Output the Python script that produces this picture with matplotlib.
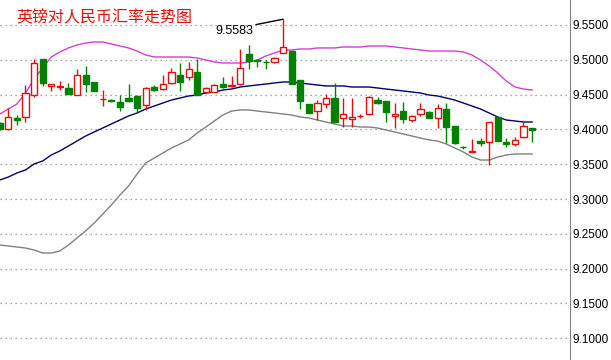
import numpy as np
import matplotlib
matplotlib.use("Agg")
import matplotlib.pyplot as plt
from matplotlib.patches import Rectangle

# daily GBP/CNY candles
opens = [9.4092, 9.4006, 9.4164, 9.4178, 9.4494, 9.5011, 9.4624, 9.4609, 9.4595, 9.4494,
         9.4782, 9.4681, 9.4430, 9.4422, 9.4394, 9.4451, 9.4480, 9.4351, 9.4609, 9.4580,
         9.4667, 9.4782, 9.4753, 9.4825, 9.4537, 9.4537, 9.4652, 9.4630, 9.4652, 9.5083,
         9.4990, 9.4975, 9.4968, 9.5098, 9.5126, 9.4710, 9.4365, 9.4264, 9.4365, 9.4451,
         9.4164, 9.4149, 9.4186, 9.4221, 9.4422, 9.4408, 9.4193, 9.4264, 9.4135, 9.4221,
         9.4250, 9.4164, 9.4293, 9.4049, 9.3754, 9.3682, 9.3833, 9.3819, 9.4178, 9.3819,
         9.3790, 9.3891, 9.4020]
closes = [9.4006, 9.4178, 9.4135, 9.4523, 9.4954, 9.4667, 9.4652, 9.4624, 9.4509, 9.4782,
          9.4652, 9.4552, 9.4437, 9.4408, 9.4322, 9.4408, 9.4307, 9.4595, 9.4566, 9.4652,
          9.4825, 9.4681, 9.4868, 9.4494, 9.4595, 9.4638, 9.4609, 9.4638, 9.4882, 9.4983,
          9.4983, 9.4968, 9.5026, 9.5184, 9.4652, 9.4408, 9.4236, 9.4379, 9.4451, 9.4106,
          9.4221, 9.4178, 9.4193, 9.4466, 9.4379, 9.4250, 9.4221, 9.4149, 9.4193, 9.4293,
          9.4164, 9.4307, 9.4034, 9.3805, 9.3740, 9.3690, 9.3805, 9.4106, 9.3833, 9.3790,
          9.3848, 9.4049, 9.3991]
highs = [9.4106, 9.4307, 9.4207, 9.4638, 9.5011, 9.5011, 9.4652, 9.4695, 9.4667, 9.4868,
         9.4911, 9.4681, 9.4566, 9.4437, 9.4494, 9.4652, 9.4494, 9.4609, 9.4638, 9.4782,
         9.4882, 9.4954, 9.4968, 9.5011, 9.4609, 9.4652, 9.4753, 9.4767, 9.5155, 9.5213,
         9.5011, 9.4997, 9.5040, 9.5583, 9.5126, 9.4710, 9.4365, 9.4422, 9.4509, 9.4667,
         9.4451, 9.4451, 9.4221, 9.4480, 9.4466, 9.4408, 9.4379, 9.4394, 9.4207, 9.4379,
         9.4264, 9.4365, 9.4379, 9.4049, 9.3761, 9.3862, 9.3876, 9.4106, 9.4178, 9.3876,
         9.3891, 9.4106, 9.4020]
lows = [9.3991, 9.3991, 9.4063, 9.4106, 9.4466, 9.4624, 9.4552, 9.4566, 9.4509, 9.4494,
        9.4537, 9.4552, 9.4336, 9.4394, 9.4264, 9.4394, 9.4250, 9.4279, 9.4552, 9.4566,
        9.4652, 9.4552, 9.4710, 9.4494, 9.4523, 9.4537, 9.4595, 9.4609, 9.4638, 9.4868,
        9.4897, 9.4868, 9.4954, 9.5098, 9.4652, 9.4293, 9.4236, 9.4135, 9.4307, 9.4106,
        9.4034, 9.4034, 9.4164, 9.4207, 9.4365, 9.4106, 9.4020, 9.4092, 9.4106, 9.4193,
        9.4164, 9.4020, 9.3805, 9.3790, 9.3718, 9.3675, 9.3761, 9.3489, 9.3833, 9.3747,
        9.3761, 9.3876, 9.3819]

# bollinger bands
mid = [9.3273, 9.3316, 9.3374, 9.3417, 9.3503, 9.3546, 9.3632, 9.3690, 9.3761, 9.3833,
       9.3905, 9.3963, 9.4020, 9.4078, 9.4135, 9.4193, 9.4236, 9.4293, 9.4336, 9.4379,
       9.4422, 9.4451, 9.4480, 9.4494, 9.4523, 9.4537, 9.4566, 9.4580, 9.4609, 9.4624,
       9.4638, 9.4652, 9.4667, 9.4681, 9.4681, 9.4667, 9.4652, 9.4638, 9.4624, 9.4624,
       9.4624, 9.4609, 9.4609, 9.4609, 9.4595, 9.4580, 9.4566, 9.4552, 9.4537, 9.4523,
       9.4494, 9.4480, 9.4451, 9.4422, 9.4379, 9.4336, 9.4293, 9.4236, 9.4178, 9.4135,
       9.4121, 9.4106, 9.4106]
upper = [9.4221, 9.4293, 9.4365, 9.4523, 9.4724, 9.4882, 9.5040, 9.5112, 9.5170, 9.5213,
         9.5241, 9.5256, 9.5256, 9.5227, 9.5198, 9.5170, 9.5126, 9.5069, 9.5040, 9.5040,
         9.5040, 9.5040, 9.5040, 9.5026, 9.4997, 9.4968, 9.4954, 9.4954, 9.4954, 9.4968,
         9.4997, 9.5055, 9.5098, 9.5141, 9.5141, 9.5155, 9.5155, 9.5170, 9.5170, 9.5170,
         9.5184, 9.5184, 9.5184, 9.5198, 9.5198, 9.5198, 9.5184, 9.5170, 9.5155, 9.5141,
         9.5126, 9.5126, 9.5126, 9.5126, 9.5112, 9.5069, 9.4997, 9.4911, 9.4810, 9.4695,
         9.4609, 9.4580, 9.4566]
lower = [9.2339, 9.2325, 9.2310, 9.2296, 9.2267, 9.2224, 9.2224, 9.2253, 9.2339, 9.2440,
         9.2540, 9.2655, 9.2784, 9.2914, 9.3057, 9.3187, 9.3359, 9.3517, 9.3589, 9.3661,
         9.3733, 9.3790, 9.3848, 9.3948, 9.4034, 9.4121, 9.4207, 9.4264, 9.4279, 9.4279,
         9.4264, 9.4250, 9.4236, 9.4221, 9.4207, 9.4178, 9.4164, 9.4135, 9.4106, 9.4078,
         9.4049, 9.4049, 9.4034, 9.4034, 9.4020, 9.3991, 9.3963, 9.3934, 9.3905, 9.3876,
         9.3848, 9.3833, 9.3790, 9.3733, 9.3675, 9.3603, 9.3560, 9.3560, 9.3603, 9.3632,
         9.3647, 9.3647, 9.3647]

yticks = [9.10, 9.15, 9.20, 9.25, 9.30, 9.35, 9.40, 9.45, 9.50, 9.55]
title = "英镑对人民币汇率走势图"

RED = "#e01010"
GREEN = "#008000"

fig = plt.figure(figsize=(6.11, 3.6), dpi=100)
ax = fig.add_axes([0, 0, 570 / 611, 1])

x = np.arange(len(opens))
w = 0.72

for yv in yticks:
    ax.axhline(yv, color="#888888", lw=0.9, ls=(0, (1, 3)), zorder=0)

for i in x:
    o, c, h, l = opens[i], closes[i], highs[i], lows[i]
    up = c >= o
    col = RED if up else GREEN
    ax.plot([i, i], [l, h], color=col, lw=1, zorder=2, solid_capstyle="butt")
    body = max(abs(c - o), 0.0004)
    ax.add_patch(Rectangle((i - w / 2, min(o, c)), w, body,
                           facecolor="white" if up else GREEN,
                           edgecolor=col, lw=1, zorder=3))

ax.plot(x, upper, color="#d040d0", lw=1, zorder=1)
ax.plot(x, mid, color="#000066", lw=1, zorder=1)
ax.plot(x, lower, color="#808080", lw=1, zorder=1)

imax = int(np.argmax(highs))
ax.annotate(f"{highs[imax]:.4f}", xy=(imax, highs[imax]), xytext=(-30, -6),
            textcoords="offset pixels", ha="right", va="top", fontsize=9,
            family="Liberation Sans",
            arrowprops=dict(arrowstyle="-", color="black", lw=1,
                            shrinkA=0, shrinkB=0, relpos=(1, 1)))

ax.set_xlim(0.03, 66.42)
ax.set_ylim(9.0687, 9.5859)
ax.set_xticks([])
ax.set_yticks(yticks)
ax.set_yticklabels([f"{v:.4f}" for v in yticks], family="Liberation Sans")
ax.yaxis.tick_right()
ax.tick_params(axis="y", length=0, pad=2, labelsize=8.5)
for s in ["top", "left", "bottom"]:
    ax.spines[s].set_visible(False)
ax.spines["right"].set_color("#808080")

fig.text(16 / 611, 1 - 18 / 360, title, color=RED, fontsize=11.5,
         family=["Noto Sans CJK SC", "DejaVu Sans"], ha="left", va="center")

fig.savefig("out.png", dpi=100)
